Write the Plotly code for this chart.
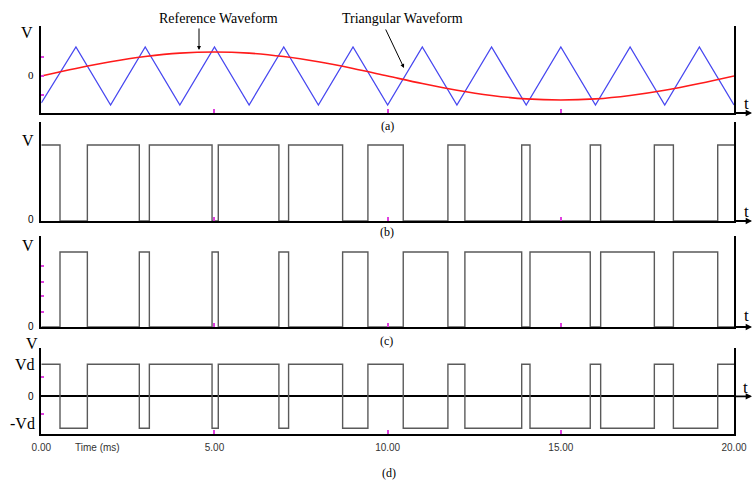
import plotly.graph_objects as go

# ---------------- data ----------------
# triangular carrier: vertex times (ms) and values (normalised)
carrier_t = [0, 1, 2, 3, 4, 5, 6, 7, 8, 9, 10, 11, 12, 13, 14, 15, 16, 17, 18, 19, 20]
carrier_v = [-0.93, 1, -1, 1, -1, 1, -1, 1, -1, 1, -1, 1, -1, 1, -1, 1, -1, 1, -1, 1, -1]

# reference waveform samples (ms, normalised)
ref_t = [0, 1, 2, 3, 4, 5, 6, 7, 8, 9, 10, 11, 12, 13, 14, 15, 16, 17, 18, 19, 20]
ref_v = [0, 0.26, 0.49, 0.67, 0.79, 0.83, 0.79, 0.67, 0.49, 0.26, 0,
         -0.26, -0.49, -0.67, -0.79, -0.83, -0.79, -0.67, -0.49, -0.26, 0]

# switching instants (ms) (b), (c), (d)
switch_t = [0.54, 1.33, 2.83, 3.12, 4.93, 5.11, 6.86, 7.14, 8.70, 9.43,
            10.45, 11.74, 12.23, 13.87, 14.11, 15.85, 16.15, 17.70, 18.25, 19.53]
t_start, t_end = 0, 20

tick_vals = [0, 5, 10, 15, 20]
tick_text = ["0.00", "5.00", "10.00", "15.00", "20.00"]

# ---------------- build step series ----------------
def steps(high, low, first_high=True):
    xs = [t_start] + switch_t + [t_end]
    states = []
    s = first_high
    for _ in range(len(switch_t) + 1):
        states.append(high if s else low)
        s = not s
    ys = states + [states[-1]]
    return xs, ys

xb, yb = steps(1, 0, True)
xc, yc = steps(1, 0, False)
xd, yd = steps(1, -1, True)

W, H = 755, 481
def PX(px): return px / W
def PY(py): return 1 - py / H

SERIF = "Liberation Serif"
SANS = "Liberation Sans"
PWM_COLOR = "#5a5a5a"
MAG = "#e040e0"

fig = go.Figure()
fig.add_trace(go.Scatter(x=carrier_t, y=carrier_v, mode="lines",
                         line=dict(color="#4848f0", width=1.3), xaxis="x", yaxis="y",
                         hoverinfo="skip"))
fig.add_trace(go.Scatter(x=ref_t, y=ref_v, mode="lines", line_shape="spline",
                         line=dict(color="#ff1a1a", width=1.6), xaxis="x", yaxis="y",
                         hoverinfo="skip"))
fig.add_trace(go.Scatter(x=xb, y=yb, mode="lines", line_shape="hv",
                         line=dict(color=PWM_COLOR, width=1.4), xaxis="x2", yaxis="y2"))
fig.add_trace(go.Scatter(x=xc, y=yc, mode="lines", line_shape="hv",
                         line=dict(color=PWM_COLOR, width=1.4), xaxis="x3", yaxis="y3"))
fig.add_trace(go.Scatter(x=xd, y=yd, mode="lines", line_shape="hv",
                         line=dict(color=PWM_COLOR, width=1.4), xaxis="x4", yaxis="y4"))

xdom = [PX(41.3), PX(734)]
panels = {
    "": dict(top=26, bot=113, rng=[-1.276, 1.724], yt=[0.655, 0, -0.655]),
    "2": dict(top=122, bot=221, rng=[0, 1.303], yt=[]),
    "3": dict(top=236, bot=327, rng=[0, 1.213], yt=[0.81, 0.60, 0.41, 0.2]),
    "4": dict(top=348, bot=434, rng=[-1.178, 1.509], yt=[0.61, -0.56]),
}
layout = {}
for k, p in panels.items():
    last = k == "4"
    layout["xaxis" + k] = dict(
        domain=xdom, range=[t_start, t_end], anchor="y" + k,
        showline=True, linecolor="black", linewidth=2, showgrid=False, zeroline=False,
        ticks="inside", ticklen=4, tickcolor=MAG, tickwidth=1.5,
        tickvals=tick_vals, ticktext=tick_text, showticklabels=last,
        ticklabelstandoff=3,
        tickfont=dict(family=SANS, size=10, color="#333333"), fixedrange=True)
    layout["yaxis" + k] = dict(
        domain=[PY(p["bot"]), PY(p["top"])], range=p["rng"], anchor="x" + k,
        showline=True, linecolor="black", linewidth=2, mirror=True, showgrid=False,
        zeroline=last, zerolinecolor="black", zerolinewidth=2,
        ticks="inside" if p["yt"] else "", ticklen=3, tickcolor=MAG, tickwidth=1.5,
        tickvals=p["yt"], showticklabels=False, fixedrange=True)

ann = []
def txt(s, x, y, size, family=SERIF, color="black"):
    ann.append(dict(text=s, x=PX(x), y=PY(y), xref="paper", yref="paper",
                    showarrow=False, font=dict(family=family, size=size, color=color),
                    xanchor="center", yanchor="middle"))
def arrow(x0, y0, x1, y1, width=1.0, size=1.0, head=2):
    ann.append(dict(text="", x=PX(x1), y=PY(y1), xref="paper", yref="paper",
                    ax=x0 - x1, ay=y0 - y1, axref="pixel", ayref="pixel",
                    showarrow=True, arrowhead=head, arrowsize=size, arrowwidth=width,
                    arrowcolor="black"))

# panel (a)
txt("Reference Waveform", 218, 18, 14)
arrow(199, 27, 199, 50, 1.0, 0.8)
txt("Triangular Waveform", 402, 18, 14)
arrow(385, 28, 404, 68, 1.0, 0.8)
txt("V", 27, 33, 16)
txt("0", 31, 75, 11)
txt("t", 746, 103, 17)
txt("(a)", 387, 126, 12)
arrow(733, 113, 752, 113, 1.8, 0.7)
# panel (b)
txt("V", 28, 141, 16)
txt("0", 31, 219, 10, SANS)
txt("t", 746, 211, 17)
txt("(b)", 387, 232, 12)
arrow(733, 221, 752, 221, 1.8, 0.7)
# panel (c)
txt("V", 28, 245, 16)
txt("0", 31, 326, 10, SANS)
txt("t", 746, 315, 17)
txt("(c)", 386, 341, 12)
arrow(733, 327, 752, 327, 1.8, 0.7)
# panel (d)
txt("V", 32, 343, 16)
txt("Vd", 25, 364, 16)
txt("0", 31, 396, 10, SANS)
txt("-Vd", 22, 423, 16)
txt("t", 745, 387, 17)
txt("Time (ms)", 97, 447, 10, SANS, "#333333")
txt("(d)", 389, 473, 12)
arrow(733, 396.3, 752, 396.3, 1.8, 0.7)

fig.update_layout(
    width=W, height=H, margin=dict(l=0, r=0, t=0, b=0, pad=0, autoexpand=False),
    paper_bgcolor="white", plot_bgcolor="white", showlegend=False,
    annotations=ann, **layout)

post = (
    "document.documentElement.style.margin='0';"
    "document.documentElement.style.overflow='hidden';"
    "document.body.style.margin='0';document.body.style.padding='0';"
    "document.body.style.overflow='hidden';"
)
fig.write_html("out.html", config={"displayModeBar": False},
               post_script=post)
